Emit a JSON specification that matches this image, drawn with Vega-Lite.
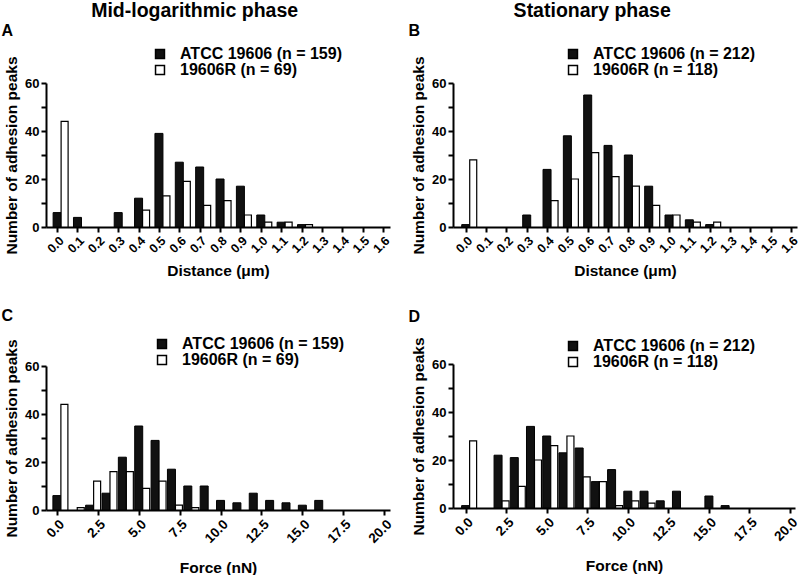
{
  "$schema": "https://vega.github.io/schema/vega-lite/v6.json",
  "padding": {"left": 1, "top": 0, "right": 0, "bottom": 0},
  "background": "white",
  "config": {
    "font": "Liberation Sans",
    "view": {"stroke": null},
    "axis": {
      "grid": false,
      "domainColor": "black",
      "domainWidth": 2,
      "tickColor": "black",
      "tickWidth": 2,
      "tickSize": 5,
      "labelColor": "black",
      "labelFontWeight": "bold",
      "labelFontSize": 13,
      "titleColor": "black",
      "titleFontWeight": "bold",
      "titleFontSize": 15.5
    },
    "axisY": {"titlePadding": 5, "labelPadding": 2},
    "axisX": {"titlePadding": 8, "labelPadding": 2, "labelAngle": -45, "labelOverlap": false, "labelFontSize": 12.5},
    "legend": {
      "orient": "none",
      "title": null,
      "symbolType": "square",
      "symbolSize": 80,
      "symbolStrokeColor": "black",
      "symbolStrokeWidth": 1.5,
      "labelFontSize": 16,
      "labelFontWeight": "bold",
      "labelColor": "black",
      "labelOffset": 12,
      "labelLimit": 400,
      "rowPadding": 0
    },
    "title": {"color": "black", "fontWeight": "bold"}
  },
  "datasets": {
    "A": [
      {"x": 0.0, "group": "ATCC 19606 (n = 159)", "count": 6},
      {"x": 0.1, "group": "ATCC 19606 (n = 159)", "count": 4},
      {"x": 0.3, "group": "ATCC 19606 (n = 159)", "count": 6},
      {"x": 0.4, "group": "ATCC 19606 (n = 159)", "count": 12},
      {"x": 0.5, "group": "ATCC 19606 (n = 159)", "count": 39},
      {"x": 0.6, "group": "ATCC 19606 (n = 159)", "count": 27},
      {"x": 0.7, "group": "ATCC 19606 (n = 159)", "count": 25},
      {"x": 0.8, "group": "ATCC 19606 (n = 159)", "count": 20},
      {"x": 0.9, "group": "ATCC 19606 (n = 159)", "count": 17},
      {"x": 1.0, "group": "ATCC 19606 (n = 159)", "count": 5},
      {"x": 1.1, "group": "ATCC 19606 (n = 159)", "count": 2},
      {"x": 1.2, "group": "ATCC 19606 (n = 159)", "count": 1},
      {"x": 0.0, "group": "19606R (n = 69)", "count": 44},
      {"x": 0.4, "group": "19606R (n = 69)", "count": 7},
      {"x": 0.5, "group": "19606R (n = 69)", "count": 13},
      {"x": 0.6, "group": "19606R (n = 69)", "count": 19},
      {"x": 0.7, "group": "19606R (n = 69)", "count": 9},
      {"x": 0.8, "group": "19606R (n = 69)", "count": 11},
      {"x": 0.9, "group": "19606R (n = 69)", "count": 5},
      {"x": 1.0, "group": "19606R (n = 69)", "count": 2},
      {"x": 1.1, "group": "19606R (n = 69)", "count": 2},
      {"x": 1.2, "group": "19606R (n = 69)", "count": 1}
    ],
    "B": [
      {"x": 0.0, "group": "ATCC 19606 (n = 212)", "count": 1},
      {"x": 0.3, "group": "ATCC 19606 (n = 212)", "count": 5},
      {"x": 0.4, "group": "ATCC 19606 (n = 212)", "count": 24},
      {"x": 0.5, "group": "ATCC 19606 (n = 212)", "count": 38},
      {"x": 0.6, "group": "ATCC 19606 (n = 212)", "count": 55},
      {"x": 0.7, "group": "ATCC 19606 (n = 212)", "count": 34},
      {"x": 0.8, "group": "ATCC 19606 (n = 212)", "count": 30},
      {"x": 0.9, "group": "ATCC 19606 (n = 212)", "count": 17},
      {"x": 1.0, "group": "ATCC 19606 (n = 212)", "count": 5},
      {"x": 1.1, "group": "ATCC 19606 (n = 212)", "count": 3},
      {"x": 1.2, "group": "ATCC 19606 (n = 212)", "count": 1},
      {"x": 0.0, "group": "19606R (n = 118)", "count": 28},
      {"x": 0.4, "group": "19606R (n = 118)", "count": 11},
      {"x": 0.5, "group": "19606R (n = 118)", "count": 20},
      {"x": 0.6, "group": "19606R (n = 118)", "count": 31},
      {"x": 0.7, "group": "19606R (n = 118)", "count": 21},
      {"x": 0.8, "group": "19606R (n = 118)", "count": 17},
      {"x": 0.9, "group": "19606R (n = 118)", "count": 9},
      {"x": 1.0, "group": "19606R (n = 118)", "count": 5},
      {"x": 1.1, "group": "19606R (n = 118)", "count": 2},
      {"x": 1.2, "group": "19606R (n = 118)", "count": 2}
    ],
    "C": [
      {"x": 0, "group": "ATCC 19606 (n = 159)", "count": 6},
      {"x": 2, "group": "ATCC 19606 (n = 159)", "count": 2},
      {"x": 3, "group": "ATCC 19606 (n = 159)", "count": 7},
      {"x": 4, "group": "ATCC 19606 (n = 159)", "count": 22},
      {"x": 5, "group": "ATCC 19606 (n = 159)", "count": 35},
      {"x": 6, "group": "ATCC 19606 (n = 159)", "count": 29},
      {"x": 7, "group": "ATCC 19606 (n = 159)", "count": 17},
      {"x": 8, "group": "ATCC 19606 (n = 159)", "count": 10},
      {"x": 9, "group": "ATCC 19606 (n = 159)", "count": 10},
      {"x": 10, "group": "ATCC 19606 (n = 159)", "count": 4},
      {"x": 11, "group": "ATCC 19606 (n = 159)", "count": 3},
      {"x": 12, "group": "ATCC 19606 (n = 159)", "count": 7},
      {"x": 13, "group": "ATCC 19606 (n = 159)", "count": 4},
      {"x": 14, "group": "ATCC 19606 (n = 159)", "count": 3},
      {"x": 15, "group": "ATCC 19606 (n = 159)", "count": 2},
      {"x": 16, "group": "ATCC 19606 (n = 159)", "count": 4},
      {"x": 0, "group": "19606R (n = 69)", "count": 44},
      {"x": 1, "group": "19606R (n = 69)", "count": 1},
      {"x": 2, "group": "19606R (n = 69)", "count": 12},
      {"x": 3, "group": "19606R (n = 69)", "count": 16},
      {"x": 4, "group": "19606R (n = 69)", "count": 16},
      {"x": 5, "group": "19606R (n = 69)", "count": 9},
      {"x": 6, "group": "19606R (n = 69)", "count": 12},
      {"x": 7, "group": "19606R (n = 69)", "count": 2},
      {"x": 8, "group": "19606R (n = 69)", "count": 1}
    ],
    "D": [
      {"x": 0, "group": "ATCC 19606 (n = 212)", "count": 1},
      {"x": 2, "group": "ATCC 19606 (n = 212)", "count": 22},
      {"x": 3, "group": "ATCC 19606 (n = 212)", "count": 21},
      {"x": 4, "group": "ATCC 19606 (n = 212)", "count": 34},
      {"x": 5, "group": "ATCC 19606 (n = 212)", "count": 30},
      {"x": 6, "group": "ATCC 19606 (n = 212)", "count": 23},
      {"x": 7, "group": "ATCC 19606 (n = 212)", "count": 25},
      {"x": 8, "group": "ATCC 19606 (n = 212)", "count": 11},
      {"x": 9, "group": "ATCC 19606 (n = 212)", "count": 16},
      {"x": 10, "group": "ATCC 19606 (n = 212)", "count": 7},
      {"x": 11, "group": "ATCC 19606 (n = 212)", "count": 7},
      {"x": 12, "group": "ATCC 19606 (n = 212)", "count": 3},
      {"x": 13, "group": "ATCC 19606 (n = 212)", "count": 7},
      {"x": 15, "group": "ATCC 19606 (n = 212)", "count": 5},
      {"x": 16, "group": "ATCC 19606 (n = 212)", "count": 1},
      {"x": 0, "group": "19606R (n = 118)", "count": 28},
      {"x": 2, "group": "19606R (n = 118)", "count": 3},
      {"x": 3, "group": "19606R (n = 118)", "count": 9},
      {"x": 4, "group": "19606R (n = 118)", "count": 20},
      {"x": 5, "group": "19606R (n = 118)", "count": 26},
      {"x": 6, "group": "19606R (n = 118)", "count": 30},
      {"x": 7, "group": "19606R (n = 118)", "count": 13},
      {"x": 8, "group": "19606R (n = 118)", "count": 11},
      {"x": 9, "group": "19606R (n = 118)", "count": 1},
      {"x": 10, "group": "19606R (n = 118)", "count": 3},
      {"x": 11, "group": "19606R (n = 118)", "count": 2}
    ]
  },
  "resolve": {"scale": {"fill": "independent", "x": "independent", "y": "independent"}, "legend": {"fill": "independent"}},
  "spacing": 14,
  "hconcat": [
    {
      "title": {"text": "Mid-logarithmic phase", "anchor": "middle", "frame": "bounds", "fontSize": 19.5, "offset": 2, "dx": -3},
      "spacing": 29,
      "resolve": {"scale": {"fill": "independent", "x": "independent", "y": "independent"}, "legend": {"fill": "independent"}},
      "vconcat": [
        {
          "title": {"text": "A", "anchor": "start", "frame": "bounds", "fontSize": 16, "offset": 7, "dx": -3},
          "width": 344, "height": 144,
          "data": {"name": "A"},
          "encoding": {
            "x": {"field": "x", "type": "quantitative", "scale": {"domain": [-0.03, 1.61], "nice": false, "zero": false},
                  "axis": {"values": [0, 0.1, 0.2, 0.3, 0.4, 0.5, 0.6, 0.7, 0.8, 0.9, 1.0, 1.1, 1.2, 1.3, 1.4, 1.5, 1.6], "format": ".1f", "title": "Distance (μm)"}},
            "y": {"field": "count", "type": "quantitative", "scale": {"domain": [0, 60], "nice": false},
                  "axis": {"values": [0, 10, 20, 30, 40, 50, 60], "labelExpr": "datum.value % 20 === 0 ? datum.label : ''", "title": "Number of adhesion peaks"}},
            "fill": {"field": "group", "type": "nominal", "scale": {"domain": ["ATCC 19606 (n = 159)", "19606R (n = 69)"], "range": ["#111111", "#ffffff"]},
                     "legend": {"legendX": 106, "legendY": -37}}
          },
          "layer": [
            {"transform": [{"filter": "indexof(datum.group, 'ATCC') >= 0"}], "mark": {"type": "bar", "width": 8, "stroke": "black", "strokeWidth": 1}},
            {"transform": [{"filter": "indexof(datum.group, 'ATCC') < 0"}], "mark": {"type": "bar", "width": 7, "xOffset": 7.5, "stroke": "black", "strokeWidth": 1.2}}
          ]
        },
        {
          "title": {"text": "C", "anchor": "start", "frame": "bounds", "fontSize": 16, "offset": 12, "dx": -3},
          "width": 344, "height": 144,
          "data": {"name": "C"},
          "encoding": {
            "x": {"field": "x", "type": "quantitative", "scale": {"domain": [-0.36, 20.05], "nice": false, "zero": false},
                  "axis": {"values": [0, 2.5, 5, 7.5, 10, 12.5, 15, 17.5, 20], "format": ".1f", "labelFontSize": 13.5, "titlePadding": 15, "title": "Force (nN)"}},
            "y": {"field": "count", "type": "quantitative", "scale": {"domain": [0, 60], "nice": false},
                  "axis": {"values": [0, 10, 20, 30, 40, 50, 60], "labelExpr": "datum.value % 20 === 0 ? datum.label : ''", "title": "Number of adhesion peaks"}},
            "fill": {"field": "group", "type": "nominal", "scale": {"domain": ["ATCC 19606 (n = 159)", "19606R (n = 69)"], "range": ["#111111", "#ffffff"]},
                     "legend": {"legendX": 108, "legendY": -30}}
          },
          "layer": [
            {"transform": [{"filter": "indexof(datum.group, 'ATCC') >= 0"}], "mark": {"type": "bar", "width": 8, "stroke": "black", "strokeWidth": 1}},
            {"transform": [{"filter": "indexof(datum.group, 'ATCC') < 0"}], "mark": {"type": "bar", "width": 7, "xOffset": 7.5, "stroke": "black", "strokeWidth": 1.2}}
          ]
        }
      ]
    },
    {
      "title": {"text": "Stationary phase", "anchor": "middle", "frame": "bounds", "fontSize": 19.5, "offset": 2, "dx": -12},
      "spacing": 29,
      "resolve": {"scale": {"fill": "independent", "x": "independent", "y": "independent"}, "legend": {"fill": "independent"}},
      "vconcat": [
        {
          "title": {"text": "B", "anchor": "start", "frame": "bounds", "fontSize": 16, "offset": 7, "dx": -3},
          "width": 344, "height": 144,
          "data": {"name": "B"},
          "encoding": {
            "x": {"field": "x", "type": "quantitative", "scale": {"domain": [-0.038, 1.605], "nice": false, "zero": false},
                  "axis": {"values": [0, 0.1, 0.2, 0.3, 0.4, 0.5, 0.6, 0.7, 0.8, 0.9, 1.0, 1.1, 1.2, 1.3, 1.4, 1.5, 1.6], "format": ".1f", "title": "Distance (μm)"}},
            "y": {"field": "count", "type": "quantitative", "scale": {"domain": [0, 60], "nice": false},
                  "axis": {"values": [0, 10, 20, 30, 40, 50, 60], "labelExpr": "datum.value % 20 === 0 ? datum.label : ''", "title": "Number of adhesion peaks"}},
            "fill": {"field": "group", "type": "nominal", "scale": {"domain": ["ATCC 19606 (n = 212)", "19606R (n = 118)"], "range": ["#111111", "#ffffff"]},
                     "legend": {"legendX": 112, "legendY": -37}}
          },
          "layer": [
            {"transform": [{"filter": "indexof(datum.group, 'ATCC') >= 0"}], "mark": {"type": "bar", "width": 8, "stroke": "black", "strokeWidth": 1}},
            {"transform": [{"filter": "indexof(datum.group, 'ATCC') < 0"}], "mark": {"type": "bar", "width": 7, "xOffset": 7.5, "stroke": "black", "strokeWidth": 1.2}}
          ]
        },
        {
          "title": {"text": "D", "anchor": "start", "frame": "bounds", "fontSize": 16, "offset": 12, "dx": -3},
          "width": 342, "height": 144,
          "data": {"name": "D"},
          "encoding": {
            "x": {"field": "x", "type": "quantitative", "scale": {"domain": [-0.47, 20.0], "nice": false, "zero": false},
                  "axis": {"values": [0, 2.5, 5, 7.5, 10, 12.5, 15, 17.5, 20], "format": ".1f", "labelFontSize": 13.5, "titlePadding": 15, "title": "Force (nN)"}},
            "y": {"field": "count", "type": "quantitative", "scale": {"domain": [0, 60], "nice": false},
                  "axis": {"values": [0, 10, 20, 30, 40, 50, 60], "labelExpr": "datum.value % 20 === 0 ? datum.label : ''", "title": "Number of adhesion peaks"}},
            "fill": {"field": "group", "type": "nominal", "scale": {"domain": ["ATCC 19606 (n = 212)", "19606R (n = 118)"], "range": ["#111111", "#ffffff"]},
                     "legend": {"legendX": 112, "legendY": -26}}
          },
          "layer": [
            {"transform": [{"filter": "indexof(datum.group, 'ATCC') >= 0"}], "mark": {"type": "bar", "width": 8, "stroke": "black", "strokeWidth": 1}},
            {"transform": [{"filter": "indexof(datum.group, 'ATCC') < 0"}], "mark": {"type": "bar", "width": 7, "xOffset": 7.5, "stroke": "black", "strokeWidth": 1.2}}
          ]
        }
      ]
    }
  ]
}
